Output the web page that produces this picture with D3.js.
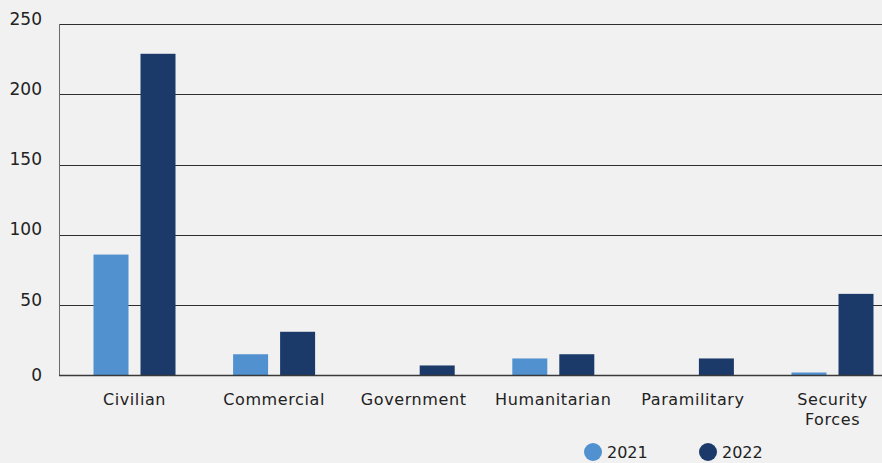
<!DOCTYPE html>
<html>
<head>
<meta charset="utf-8">
<script src="https://cdn.jsdelivr.net/npm/d3@7"></script>
<style>
  html, body { margin: 0; padding: 0; background: #f1f1f1; }
  svg { display: block; }
  svg text { font-family: "DejaVu Sans", sans-serif; }
</style>
</head>
<body>
<svg id="chart" width="882" height="463"></svg>
<script>
// Incidents by target type, 2021 vs 2022
const categories = ["Civilian", "Commercial", "Government", "Humanitarian", "Paramilitary", "Security Forces"];
const years = ["2021", "2022"];
const values2021 = [86, 15, 0, 12, 0, 2];
const values2022 = [229, 31, 7, 15, 12, 58];
const yTicks = [0, 50, 100, 150, 200, 250];
const colors = { "2021": "#5191d0", "2022": "#1b3a6a" };

const rows = categories.map((c, i) => ({ category: c, "2021": values2021[i], "2022": values2022[i] }));

const svg = d3.select("#chart");
const chartW = 882;
const plotLeft = 59, plotTop = 24.3, plotBottom = 375.3;
const fontFamily = '"DejaVu Sans", sans-serif';

const y = d3.scaleLinear().domain([0, 250]).range([plotBottom, plotTop]);
const x0 = d3.scaleBand().domain(categories).range([64.7, 902.3]).padding(0);
const x1 = d3.scaleBand().domain(years).range([-41, 41]).paddingInner(12 / 47).paddingOuter(0);

// y tick labels (sit slightly above their gridlines, zero on the baseline)
const yAxis = d3.axisLeft(y).tickValues(yTicks).tickSize(0).tickPadding(17);
const gy = svg.append("g").attr("transform", `translate(${plotLeft},0)`).call(yAxis)
  .attr("font-family", fontFamily).attr("font-size", 17);
gy.select(".domain").remove();
gy.selectAll("text")
  .attr("fill", "#222")
  .attr("y", d => (d === 0 ? 0 : -5.5));

// horizontal grid
svg.append("g").selectAll("line")
  .data(yTicks.filter(t => t > 0))
  .join("line")
  .attr("x1", plotLeft).attr("x2", chartW)
  .attr("y1", d => Math.round(y(d)) + 0.5).attr("y2", d => Math.round(y(d)) + 0.5)
  .attr("stroke", "#2e2e2e").attr("stroke-width", 1);

// left axis line
svg.append("line")
  .attr("x1", plotLeft + 0.5).attr("x2", plotLeft + 0.5)
  .attr("y1", Math.round(plotTop)).attr("y2", Math.round(plotBottom) + 1)
  .attr("stroke", "#6a6a6a").attr("stroke-width", 1);

// bars
const groups = svg.append("g").selectAll("g")
  .data(rows)
  .join("g")
  .attr("transform", d => `translate(${x0(d.category) + x0.bandwidth() / 2},0)`);

groups.selectAll("rect")
  .data(d => years.map(k => ({ key: k, value: d[k] })).filter(e => e.value > 0))
  .join("rect")
  .attr("x", d => x1(d.key))
  .attr("width", x1.bandwidth())
  .attr("y", d => y(d.value))
  .attr("height", d => y(0) - y(d.value))
  .attr("fill", d => colors[d.key]);

// baseline
svg.append("line")
  .attr("x1", plotLeft).attr("x2", chartW)
  .attr("y1", Math.round(plotBottom) + 0.5).attr("y2", Math.round(plotBottom) + 0.5)
  .attr("stroke", "#3a3a3a").attr("stroke-width", 1.5);

// category labels
const xAxis = d3.axisBottom(x0).tickSize(0).tickPadding(0);
const gx = svg.append("g").attr("transform", `translate(0,${plotBottom})`).call(xAxis)
  .attr("font-family", fontFamily).attr("font-size", 16);
gx.select(".domain").remove();
gx.selectAll("text")
  .attr("fill", "#222")
  .attr("letter-spacing", 0.6)
  .attr("dy", null)
  .attr("y", 30)
  .each(function (d) {
    const t = d3.select(this);
    const words = d.split(" ");
    if (words.length > 1) {
      t.text(null);
      words.forEach((w, i) => t.append("tspan").attr("x", 0).attr("dy", i === 0 ? 0 : 20).text(w));
    }
  });

// legend
const legend = svg.append("g").attr("font-family", fontFamily);
const legendItems = [{ key: "2021", cx: 593, tx: 607 }, { key: "2022", cx: 708, tx: 722 }];
legend.selectAll("circle").data(legendItems).join("circle")
  .attr("cx", d => d.cx).attr("cy", 452).attr("r", 9)
  .attr("fill", d => colors[d.key]);
legend.selectAll("text").data(legendItems).join("text")
  .attr("x", d => d.tx).attr("y", 458)
  .attr("font-size", 16).attr("fill", "#222")
  .text(d => d.key);
</script>
</body>
</html>
